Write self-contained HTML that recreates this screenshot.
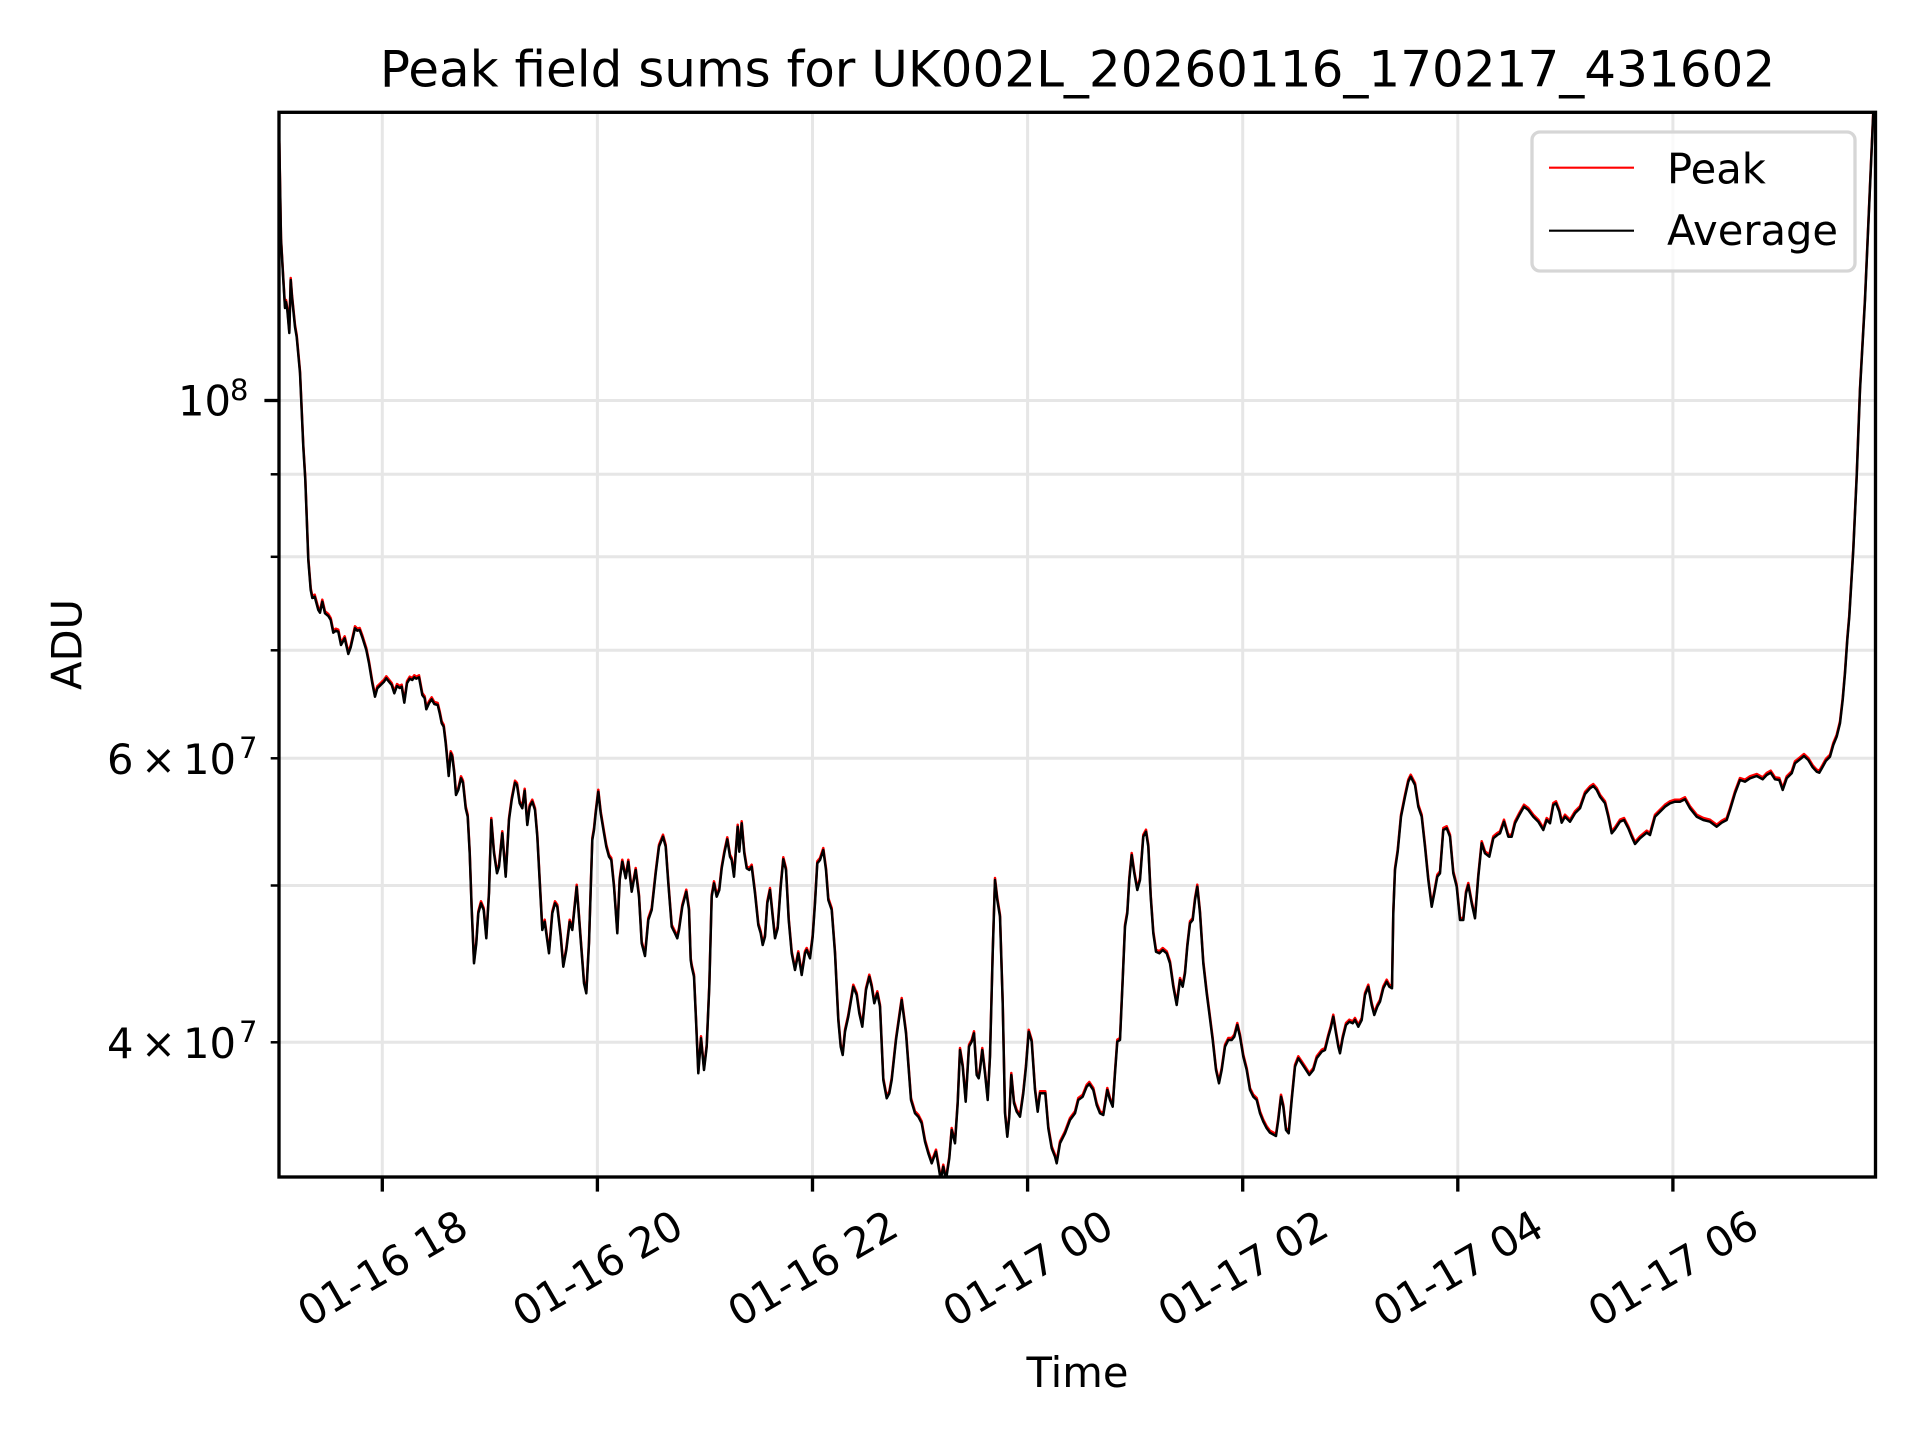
<!DOCTYPE html>
<html>
<head>
<meta charset="utf-8">
<style>
html,body{margin:0;padding:0;background:#fff;}
svg{display:block;}
text{font-family:"DejaVu Sans","Liberation Sans",sans-serif;fill:#000;}
</style>
</head>
<body>
<svg width="1920" height="1440" viewBox="0 0 1920 1440" xmlns="http://www.w3.org/2000/svg">
<rect x="0" y="0" width="1920" height="1440" fill="#fff"/>
<defs>
<clipPath id="ax"><rect x="279" y="112" width="1596.5" height="1065"/></clipPath>
</defs>

<!-- grid -->
<g stroke="#e6e6e6" stroke-width="3" fill="none">
<line x1="382.3" y1="112" x2="382.3" y2="1177"/>
<line x1="597.4" y1="112" x2="597.4" y2="1177"/>
<line x1="812.5" y1="112" x2="812.5" y2="1177"/>
<line x1="1027.6" y1="112" x2="1027.6" y2="1177"/>
<line x1="1242.7" y1="112" x2="1242.7" y2="1177"/>
<line x1="1457.8" y1="112" x2="1457.8" y2="1177"/>
<line x1="1672.9" y1="112" x2="1672.9" y2="1177"/>
<line x1="279" y1="400.5" x2="1875.5" y2="400.5"/>
<line x1="279" y1="474.3" x2="1875.5" y2="474.3"/>
<line x1="279" y1="556.8" x2="1875.5" y2="556.8"/>
<line x1="279" y1="650.3" x2="1875.5" y2="650.3"/>
<line x1="279" y1="758.3" x2="1875.5" y2="758.3"/>
<line x1="279" y1="885.5" x2="1875.5" y2="885.5"/>
<line x1="279" y1="1042.3" x2="1875.5" y2="1042.3"/>
</g>

<g clip-path="url(#ax)" fill="none" stroke-linejoin="round" stroke-linecap="round">
<g id="series">
<polyline id="pl" stroke-width="2.5" points="279.3,143.3 281,240 283.3,280 285,308 286,302 287.3,310 289.3,333 290.7,280 292,297 295,327 296.7,337 300,373 303.3,447 305.3,480 308.3,560 310.7,590 312.3,598 314.7,596.7 318.3,610 320,612.7 322.3,601.7 325,613.3 328.3,616 330.7,620 333.3,632.7 335.7,630.7 338.3,631.7 341,645 344.7,638.3 348.3,654 350.7,647.3 355,628.3 357.3,630.7 359.7,630 362.3,637.3 366.3,650 369,663.3 372.3,683.3 375,696.7 377.3,688.3 380.7,685 384,681.7 386.3,678.3 389,681.7 391.7,685 394.3,693.3 397,686 399.7,688 401.7,686.7 404.3,702.7 407,683.3 409.7,678.7 412.3,680 414.3,677.3 416.3,678.7 419,677.3 422.3,695 424.7,698.3 426.3,709.3 429,703.3 431.7,699.3 434.3,704 437.7,705 439.7,713.3 441.7,723.3 443.7,726.7 445.7,743.3 447.3,760 448.7,776 450.7,753.3 452.3,756.7 454.3,773.3 456,795 458.3,790 461,778.3 463,782.7 465.7,808.3 467.7,816.7 469.7,853.3 471.7,910 474,963.3 476.3,943.3 478.3,913.3 481,903.3 483.7,910 486.3,938.3 489,893.3 491.3,820 494,853.3 497,873.3 499,866.7 502.3,833.3 505.7,876.7 509,820 511.7,800 515,782.7 517,785 519.7,803.3 522.3,808.3 524.7,790.7 527.3,825 529.7,806.7 532.3,801.7 535,810 537.3,836.7 542.3,930 544.7,921.7 549,953.3 552.3,913.3 555,903.3 557.3,906.7 560.7,936.7 563.3,966.7 566.3,950 569.7,921.7 572.3,930 576.7,886.7 580.7,940 584,983.3 586.3,993.3 589,943.3 592.3,840 594,830 595.7,813.3 598.3,791.7 600.7,813.3 604,833.3 606.3,846.7 609,856.7 611.3,860 614,886.7 617.3,933.3 619.7,880 622.3,861.7 625.7,878.3 628.3,861.7 631.7,891.7 635.7,870 639,896.7 641.7,943.3 645,956 648.3,920 651.7,910 655.7,873.3 659,846.7 663,836.7 665.7,846.7 668.3,883.3 671.7,926.7 675,933.3 677.3,938.3 679,930 682.3,906.7 686.3,891.7 689,910 690.7,960 691.7,966.7 694,976.7 696,1020 698.3,1073.3 701,1038.3 704,1070 706.7,1046.7 709.3,986.7 711.7,896.7 714,883.3 716.7,896.7 719.3,890 721.7,868.3 724.3,853.3 727.3,839.3 730,856.7 731.7,860 734,876.7 737.7,826.7 739.3,851.7 741.7,823.3 744.3,853.3 746.7,868.3 749.3,870 751.7,866.7 755,893.3 758.3,925 760.7,933.3 762.7,945 765,936.7 767.3,903.3 770,890 772.7,916.7 775,938.3 777.7,928.3 780.7,886.7 783.3,859.3 786,870 788.7,920 791.7,953.3 795,970 798.3,953.3 801.7,975 805,953.3 806.7,950 810,958.3 812.7,936.7 815,903.3 817.3,863.3 820,860 823.3,850 826,870 828.3,900 831.7,910 835,953.3 838.3,1020 840.7,1046.7 842.7,1055 845,1031.7 848.3,1016.7 853.3,986.7 856.7,995 859.3,1013.3 862.3,1026.7 866,990 869.3,976.7 871.7,986.7 874.3,1003.3 877.3,993.3 880,1006.7 883.3,1080 886.7,1098.3 889.3,1093.3 891.7,1080 896,1040 901.7,1000 906,1033.3 911,1100 915,1113.3 918.3,1116.7 921.7,1123.3 925,1141.7 928.3,1153.3 931.7,1163.3 936,1151.7 938.3,1165 940.7,1180 943.3,1166.7 946,1180 949.3,1158.3 951.7,1130 955,1143.3 957.7,1103.3 960,1050 962.7,1066.7 965.7,1101.7 969,1046.7 971.7,1041.7 974,1033.3 976.7,1075 978.7,1078.3 980,1070 982.3,1050 985,1073.3 987.7,1100 990,1056.7 992.7,953.3 995,880 997.3,900 1000,916.7 1002.7,1003.3 1005,1113.3 1007.3,1136.7 1009.3,1116.7 1011.3,1075 1014,1103.3 1016.7,1111.7 1020,1116.7 1023.3,1093.3 1026,1066.7 1028.7,1031.7 1031.7,1041.7 1035,1090 1037.7,1111.7 1040,1093.3 1043.3,1093.3 1045.3,1093.3 1048.3,1128.3 1051.7,1148.3 1055,1156.7 1056.7,1163.3 1060,1143.3 1065,1133.3 1070,1120 1075,1113.3 1078.3,1100 1082.7,1096.7 1086.7,1086.7 1089.3,1084 1093.3,1090 1096.7,1105 1100,1113.3 1103.3,1115 1107.3,1090 1110,1100 1112.7,1106.7 1115,1073.3 1117.3,1041.7 1120,1040 1122.7,980 1125,926.7 1127.3,913.3 1129.3,880 1131.7,855 1134.3,873.3 1137.3,890 1140,880 1143.3,836.7 1146,831.7 1148.3,846.7 1150.7,896.7 1153.3,933.3 1156,951.7 1159.3,953.3 1162.7,950 1166.7,953.3 1170,963.3 1173.3,986.7 1176.7,1005 1180,980 1182.7,986.7 1185,973.3 1187.3,946.7 1190,923.3 1192.7,920 1195,900 1197.3,886.7 1200,913.3 1203.3,963.3 1206.7,993.3 1209.3,1013.3 1212.7,1040 1216,1070 1219,1083.3 1221.7,1070 1225,1046.7 1228.3,1040 1231.7,1040 1234.3,1036.7 1237.3,1025 1240,1036.7 1243.3,1056.7 1246.7,1070 1250,1090 1253.3,1096.7 1256.7,1100 1260,1113.3 1263.3,1121.7 1266.7,1128.3 1270,1132.7 1276,1136 1278.3,1120 1281,1096.7 1283.3,1106.7 1286,1130 1288.7,1133.3 1291.7,1100 1295,1066.7 1298.3,1058.3 1301.7,1063.3 1305,1068.3 1309.3,1075 1313.3,1070 1316.7,1058.3 1321.7,1051.7 1325,1050 1328.3,1036.7 1330.7,1028.3 1333.3,1016.7 1336,1033.3 1338.3,1046.7 1340,1053.3 1342.7,1038.3 1346,1025 1349.3,1021.7 1352.7,1023.3 1355,1020 1358.3,1026.7 1361.7,1020 1365,995 1368.3,986.7 1371.7,1005 1374.3,1015 1377.3,1006.7 1380,1001.7 1383.3,988.3 1386.7,981.7 1389.3,986.7 1392,988.3 1393.3,913.3 1395,870 1397.7,851.7 1401,816.7 1405,796.7 1408.3,781.7 1410.7,776.7 1415,785 1418.3,806.7 1421.7,816.7 1425,846.7 1428.3,880 1431.7,906.7 1434.3,893.3 1437.3,876.7 1440,873.3 1443.3,830 1446.7,828.3 1450,836.7 1453.3,873.3 1456.7,886.7 1460,920 1463.3,920 1466,893.3 1468.3,885 1471.7,903.3 1475,918.3 1478.3,876.7 1481.7,843.3 1485,853.3 1489.3,856.7 1493.3,838.3 1497.3,835 1500,833.3 1504,821.7 1508.3,836.7 1511.7,836.7 1515,823.3 1519.3,815 1524,806.7 1528.3,810 1533.3,816.7 1538.3,821.7 1543.3,830 1546.7,820 1550,823.3 1553.3,805 1556,803.3 1559.3,811.7 1561.7,822.7 1565,816.7 1570,821.7 1575,813.3 1580,808.3 1585,794 1590,788.3 1593.3,786 1596.7,790 1600,796.7 1605,803.3 1608.3,816.7 1611.7,833.3 1615,829.3 1620,821.7 1624,820 1628.3,828.3 1631.7,836.7 1635,844 1640,838.3 1646.7,832.7 1650,835 1655,816.7 1660,811.7 1665,806.7 1670,803.3 1675,801.7 1680,801.7 1685,799.3 1690,808.3 1696.7,816.7 1703.3,820 1710,821.7 1716.7,826.7 1721.7,822.7 1726.7,820 1730,810 1735,793.3 1740,780 1745,781.7 1750,778.3 1756.7,776 1762.7,779.3 1766.7,775 1770.7,772.7 1775,779.3 1779.3,780 1782.7,790 1786.7,778.3 1791.7,773.3 1795,763.3 1800,759.3 1804,756 1808.3,760 1812.7,767.3 1816.7,771.7 1819.3,772.7 1822.7,766.7 1826,760.7 1830,756.7 1833.3,745 1836.7,736.7 1840,723.3 1842.7,700 1845,673.3 1847.3,640 1849.3,616.7 1853.3,550 1856.7,476.7 1860,390 1865,300 1873.3,112.7 1875,108"/>
</g>
<use href="#pl" stroke="#ff0000" transform="translate(0,-2)"/>
<use href="#pl" stroke="#000000"/>
</g>

<!-- spines -->
<rect x="279" y="112.3" width="1596.5" height="1064.7" fill="none" stroke="#000" stroke-width="3.33"/>

<!-- ticks -->
<g stroke="#000" stroke-width="3.33">
<line x1="382.3" y1="1177" x2="382.3" y2="1191.6"/>
<line x1="597.4" y1="1177" x2="597.4" y2="1191.6"/>
<line x1="812.5" y1="1177" x2="812.5" y2="1191.6"/>
<line x1="1027.6" y1="1177" x2="1027.6" y2="1191.6"/>
<line x1="1242.7" y1="1177" x2="1242.7" y2="1191.6"/>
<line x1="1457.8" y1="1177" x2="1457.8" y2="1191.6"/>
<line x1="1672.9" y1="1177" x2="1672.9" y2="1191.6"/>
<line x1="264.4" y1="400.5" x2="279" y2="400.5"/>
</g>
<g stroke="#000" stroke-width="2.5">
<line x1="270.7" y1="474.3" x2="279" y2="474.3"/>
<line x1="270.7" y1="556.8" x2="279" y2="556.8"/>
<line x1="270.7" y1="650.3" x2="279" y2="650.3"/>
<line x1="270.7" y1="758.3" x2="279" y2="758.3"/>
<line x1="270.7" y1="885.5" x2="279" y2="885.5"/>
<line x1="270.7" y1="1042.3" x2="279" y2="1042.3"/>
</g>

<!-- x tick labels -->
<g font-size="41.67" text-anchor="middle">
<text x="382.3" y="1268" dy="15" transform="rotate(-30 382.3 1268)">01-16 18</text>
<text x="597.4" y="1268" dy="15" transform="rotate(-30 597.4 1268)">01-16 20</text>
<text x="812.5" y="1268" dy="15" transform="rotate(-30 812.5 1268)">01-16 22</text>
<text x="1027.6" y="1268" dy="15" transform="rotate(-30 1027.6 1268)">01-17 00</text>
<text x="1242.7" y="1268" dy="15" transform="rotate(-30 1242.7 1268)">01-17 02</text>
<text x="1457.8" y="1268" dy="15" transform="rotate(-30 1457.8 1268)">01-17 04</text>
<text x="1672.9" y="1268" dy="15" transform="rotate(-30 1672.9 1268)">01-17 06</text>
</g>

<!-- y tick labels -->
<g font-size="41.67">
<text x="178" y="415.5">10</text>
<text x="230" y="400" font-size="29">8</text>

<text x="107" y="774">6</text>
<text x="141" y="774">×</text>
<text x="183" y="774">10</text>
<text x="239" y="758" font-size="29">7</text>

<text x="107" y="1058">4</text>
<text x="141" y="1058">×</text>
<text x="183" y="1058">10</text>
<text x="239" y="1042" font-size="29">7</text>
</g>

<!-- axis labels & title -->
<text x="1077.5" y="1387" font-size="41.67" text-anchor="middle">Time</text>
<text x="81.7" y="644.5" font-size="41.67" text-anchor="middle" transform="rotate(-90 81.7 644.5)">ADU</text>
<text x="1077.5" y="86.7" font-size="50" text-anchor="middle">Peak field sums for UK002L_20260116_170217_431602</text>

<!-- legend -->
<rect x="1532" y="132" width="323" height="139" rx="8" ry="8" fill="#ffffff" fill-opacity="0.8" stroke="#d6d6d6" stroke-width="3.33"/>
<line x1="1549" y1="167.7" x2="1634" y2="167.7" stroke="#ff0000" stroke-width="2.2"/>
<line x1="1549" y1="230.7" x2="1634" y2="230.7" stroke="#000" stroke-width="2.2"/>
<text x="1667" y="183.3" font-size="41.67">Peak</text>
<text x="1667" y="245" font-size="41.67">Average</text>
</svg>
</body>
</html>
